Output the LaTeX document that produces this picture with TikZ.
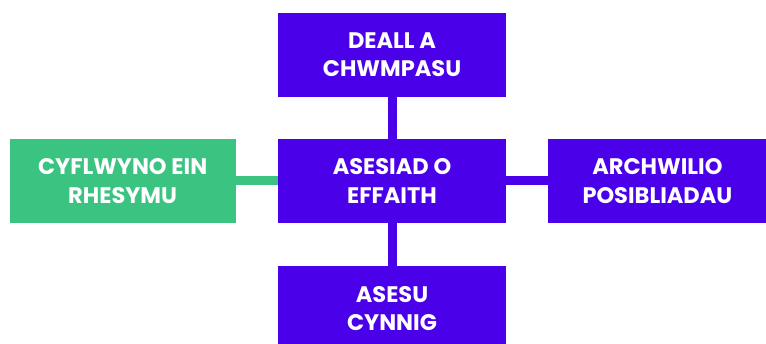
\documentclass[tikz,border=0pt]{standalone}
\usepackage{fontspec}
\setmainfont{Poppins}
\usepackage{xcolor}
\usepackage{tikz}
\usetikzlibrary{positioning}
\definecolor{porffor}{HTML}{4B00EA}
\definecolor{gwyrdd}{HTML}{3AC381}
\tikzset{
  blwch/.style = {rectangle, inner sep=0pt, align=center, text=white,
    font=\fontsize{22.5}{28.5}\selectfont\bfseries, minimum height=84pt},
  blwch_p/.style = {blwch, fill=porffor, minimum width=228pt},% blwch porffor
  blwch_g/.style = {blwch, fill=gwyrdd, minimum width=226pt},% blwch gwyrdd
  cyswllt/.style = {line width=9pt}
}

\begin{document}
\begin{tikzpicture}[node distance=42pt]
\useasboundingbox (0,0) rectangle (766pt,343pt);
\node [blwch_p] (canol) at (392pt,162pt) {ASESIAD O\\EFFAITH};
\node [blwch_p, above=of canol] (top) {DEALL A\\CHWMPASU};
\node [blwch_g, left=of canol] (chwith) {CYFLWYNO EIN\\RHESYMU};
\node [blwch_p, right=of canol, minimum width=218pt] (dde) {ARCHWILIO\\POSIBLIADAU};
\node [blwch_p, below=43pt of canol] (gwaelod) {ASESU\\CYNNIG};

\draw [cyswllt, porffor] (canol) -- (top);
\draw [cyswllt, gwyrdd] (chwith) -- (canol);
\draw [cyswllt, porffor] (canol) -- (dde);
\draw [cyswllt, porffor] (canol) -- (gwaelod);
\end{tikzpicture}
\end{document}
